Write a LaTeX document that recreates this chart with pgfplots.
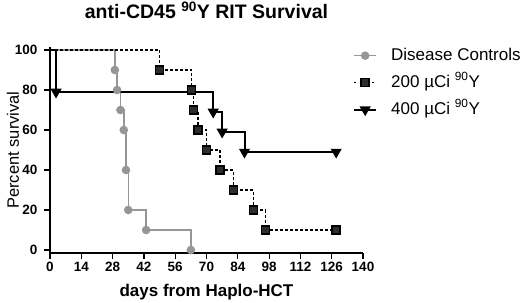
\documentclass[border=0pt]{standalone}
\usepackage{fontspec}
\setmainfont{Liberation Sans}
\usepackage{pgfplots}
\pgfplotsset{compat=1.18}
\definecolor{ctrlgray}{RGB}{150,150,150}
\definecolor{sqfill}{RGB}{45,45,45}

\begin{document}
\begin{tikzpicture}
\useasboundingbox (-50bp,-50bp) rectangle (470bp,253bp);
\begin{axis}[
    at={(0,0)}, anchor=south west,
    scale only axis,
    width=313bp, height=206bp,
    xmin=0, xmax=140,
    ymin=-1.5, ymax=101.5,
    xtick={0,14,...,140},
    ytick={0,20,...,100},
    axis lines*=left,
    axis line style={line width=1.5bp, black},
    tick style={line width=1.2bp, black},
    tick align=outside,
    major tick length=6bp,
    clip=false,
    /pgf/number format/assume math mode=true,
    ticklabel style={font=\fontsize{13.5bp}{15bp}\selectfont\bfseries},
    yticklabel style={xshift=-3bp},
    title={anti-CD45 \textsuperscript{90}Y RIT Survival},
    title style={font=\fontsize{19.5bp}{22bp}\selectfont\bfseries,
                 at={(axis description cs:0.5,1.15)}, anchor=center},
    xlabel={days from Haplo-HCT},
    xlabel style={font=\fontsize{17bp}{20bp}\selectfont\bfseries,
                  at={(axis description cs:0.5,-0.19)}, anchor=center},
    ylabel={Percent survival},
    ylabel style={font=\fontsize{16.5bp}{19bp}\selectfont,
                  at={(axis description cs:-0.118,0.5)}, anchor=center},
    legend image code/.code={\draw[mark repeat=2,mark phase=2]
        plot coordinates {(0bp,0bp) (11bp,0bp) (22bp,0bp)};},
    legend style={at={(axis description cs:0.968,1.005)}, anchor=north west,
                  draw=none, fill=none, inner sep=0pt, row sep=8bp,
                  font=\fontsize{17bp}{20bp}\selectfont,
                  nodes={text height=12bp, text depth=3bp, inner sep=2bp},
                  /tikz/every odd column/.append style={column sep=12bp}},
    legend cell align=left,
]

%% Disease controls
\addplot[const plot, ctrlgray, line width=1.5bp, mark=*, mark size=3.5bp,
         mark indices={2,3,4,5,6,7,8,9}, forget plot] coordinates {
    (0,100) (29,90) (30,80) (31.5,70) (33,60) (34,40) (35,20) (43,10) (63,0)
};

%% 400 uCi
\addplot[const plot, black, line width=2bp, mark=triangle*,
         mark options={rotate=180, solid}, mark size=4.5bp,
         mark indices={2,3,4,5,6}, forget plot] coordinates {
    (0,100) (2.7,79) (73,69) (77,59) (87,49) (128,49)
};

%% 200 uCi
\addplot[const plot, black, line width=1.5bp, dash pattern=on 3bp off 2bp,
         mark=square*, mark options={solid, fill=sqfill, draw=black},
         mark size=4bp, mark indices={2,...,11}, forget plot] coordinates {
    (0,100) (49,90) (63.4,80) (64.2,70) (66.2,60) (70,50) (76,40) (82,30)
    (91,20) (96.3,10) (128,10)
};

\addlegendimage{ctrlgray, line width=1.5bp, mark=*, mark size=3.5bp}
\addlegendentry{Disease Controls}
\addlegendimage{black, line width=1.5bp, dash pattern=on 2bp off 4bp,
                mark=square*, mark options={solid, fill=sqfill}, mark size=4bp}
\addlegendentry{200 µCi \textsuperscript{90}Y}
\addlegendimage{black, line width=2bp, mark=triangle*,
                mark options={rotate=180}, mark size=4.5bp}
\addlegendentry{400 µCi \textsuperscript{90}Y}

\end{axis}
\end{tikzpicture}
\end{document}
